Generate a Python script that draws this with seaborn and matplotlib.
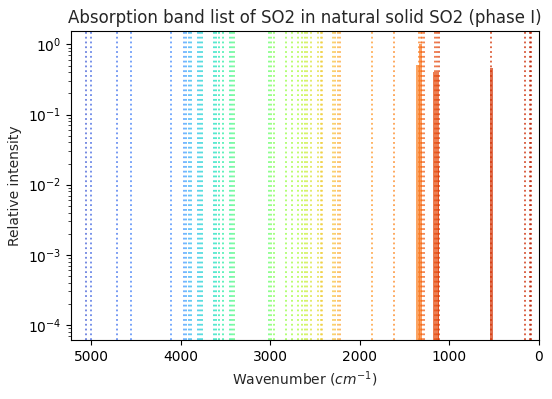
import numpy as np
import pandas as pd
import matplotlib
matplotlib.use("Agg")
import matplotlib.pyplot as plt
import seaborn as sns

# Band positions (cm-1) shown as vertical dotted lines
line_positions = [5054, 5005, 4712, 4558, 4112,
                  3963, 3936, 3910, 3888,
                  3806, 3780, 3758,
                  3628, 3601, 3572, 3527,
                  3452, 3426, 3404,
                  3013, 2987, 2961,
                  2819, 2752, 2689, 2645, 2615, 2589, 2540,
                  2466, 2439, 2421,
                  2298, 2272, 2249, 2223,
                  1862, 1617,
                  1341, 1320, 1311, 1285,
                  1162, 1144, 1114,
                  536, 156, 100, 89]

# Strong bands drawn as filled blocks (center, width, relative intensity)
band_centers = [1348, 1322, 1150, 1160, 1124, 530]
band_widths = [40, 36, 58, 4, 14, 24]
band_heights = [0.51, 1.02, 0.41, 0.79, 0.018, 0.46]

sns.set_style("ticks")
plt.rcParams["font.family"] = ["DejaVu Sans"]

fig = plt.figure(figsize=(5.52, 3.99), dpi=100)
ax = fig.add_axes([0.1286, 0.148, 0.8478, 0.7745])

cmap = plt.get_cmap("turbo")
pos_sorted = np.sort(np.array(line_positions, dtype=float))
cvals = np.linspace(0.92, 0.11, len(pos_sorted))


def col_for(w):
    return cmap(float(np.interp(w, pos_sorted, cvals)))


df = pd.DataFrame({"center": band_centers, "width": band_widths,
                   "height": band_heights})
for _, r in df.iterrows():
    ax.bar(r["center"], r["height"], width=r["width"], bottom=1e-8,
           color=col_for(r["center"]), alpha=0.7, lw=0)

for w in line_positions:
    ax.axvline(w, color=col_for(w), ls=":", lw=1.3, alpha=0.8)

sns.despine(ax=ax, top=False, right=False)
ax.set_yscale("log")
ax.set_xlim(5225, 0)
ax.set_ylim(6.1e-5, 1.56)
ax.set_title("Absorption band list of SO2 in natural solid SO2 (phase I)", fontsize=12)
ax.set_xlabel("Wavenumber ($cm^{-1}$)")
ax.set_ylabel("Relative intensity")
for sp in ax.spines.values():
    sp.set_color("black")
ax.tick_params(colors="black")
fig.savefig("out.png", dpi=100)
